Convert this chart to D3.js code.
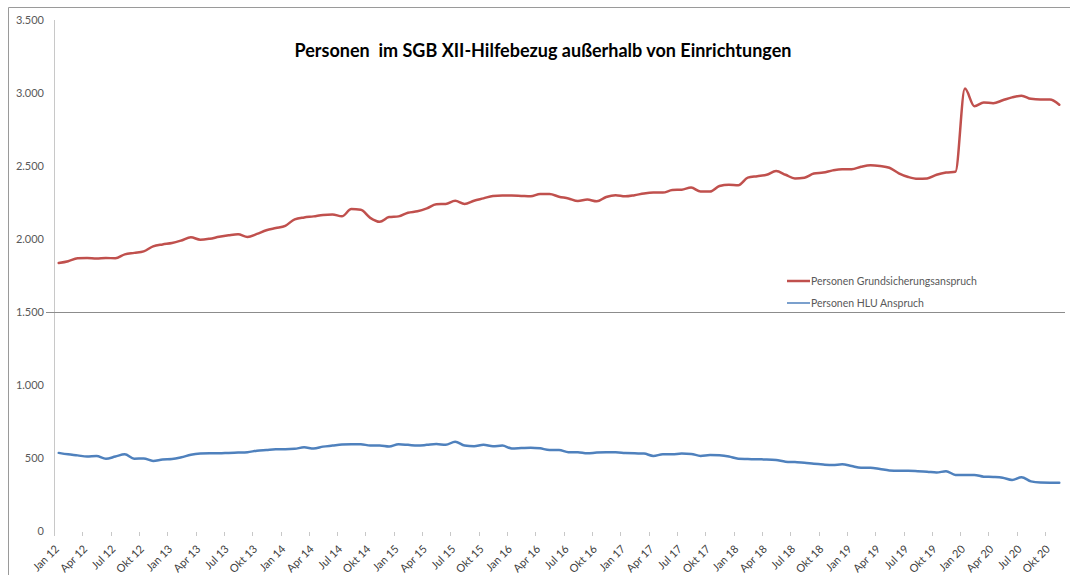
<!DOCTYPE html>
<html>
<head>
<meta charset="utf-8">
<script src="https://cdn.jsdelivr.net/npm/d3@7"></script>
<style>
  body { margin: 0; background: #fff; }
  text { font-family: Lato, "Open Sans", sans-serif; }
</style>
</head>
<body>
<script>
// Monatsreihe Jan 12 bis Nov 20
const monthNames = ["Jan", "Feb", "Mrz", "Apr", "Mai", "Jun", "Jul", "Aug", "Sep", "Okt", "Nov", "Dez"];
const years = ["12", "13", "14", "15", "16", "17", "18", "19", "20"];
const categories = years.flatMap(yr => monthNames.map(m => `${m} ${yr}`)).slice(0, 107);

const grundsicherung = [
  1835, 1848, 1868, 1870, 1866, 1870, 1868, 1895, 1905, 1915, 1950, 1963,
  1972, 1990, 2012, 1995, 2002, 2015, 2025, 2032, 2014, 2035, 2060, 2075,
  2090, 2135, 2148, 2155, 2165, 2168, 2155, 2205, 2200, 2145, 2118, 2150,
  2155, 2180, 2190, 2210, 2238, 2240, 2262, 2240, 2262, 2278, 2295, 2298,
  2298, 2295, 2292, 2308, 2308, 2290, 2278, 2260, 2270, 2258, 2288, 2300,
  2292, 2300, 2312, 2318, 2318, 2335, 2338, 2352, 2325, 2325, 2363, 2372,
  2368, 2420, 2430, 2440, 2465, 2440, 2415, 2420, 2448, 2455, 2470, 2478,
  2478, 2495, 2505, 2500, 2488, 2450, 2425, 2412, 2415, 2440, 2455, 2460,
  3030, 2910, 2935, 2930, 2950, 2970, 2982, 2960, 2955, 2955, 2920
];

const hlu = [
  535, 525, 518, 510, 514, 495, 510, 525, 495, 497, 480, 490,
  493, 505, 522, 530, 532, 532, 535, 537, 540, 550, 555, 560,
  560, 563, 573, 565, 578, 585, 592, 595, 595, 585, 585, 578,
  594, 590, 585, 590, 596, 590, 612, 585, 580, 590, 580, 585,
  565, 568, 571, 566, 555, 555, 540, 539, 532, 537, 539, 539,
  535, 532, 530, 514, 525, 525, 530, 528, 514, 520, 518, 510,
  495, 493, 491, 490, 486, 475, 472, 468, 460, 455, 452, 457,
  445, 434, 434, 425, 415, 413, 413, 410, 406, 400, 410, 384,
  384, 384, 372, 370, 365, 350, 368, 340, 332, 331, 331
];

const yTicks = [0, 500, 1000, 1500, 2000, 2500, 3000, 3500];
const seriesNames = ["Personen Grundsicherungsanspruch", "Personen HLU Anspruch"];
const seriesColors = ["#c0504d", "#4f81bd"];

const width = 1070;
const height = 575;

const x = d3.scaleBand().domain(categories).range([54, 1064]);
const y = d3.scaleLinear().domain([0, 3500]).range([531, 20]);

const de = d3.formatLocale({ decimal: ",", thousands: ".", grouping: [3], currency: ["", " €"] });
const fmt = de.format(",d");

const svg = d3.create("svg")
  .attr("width", width)
  .attr("height", height)
  .attr("viewBox", [0, 0, width, height]);

// Rahmen
svg.append("path")
  .attr("d", `M8.5,${height}V7.5H${width}`)
  .attr("fill", "none")
  .attr("stroke", "#9a9a9a");

// Titel
svg.append("text")
  .attr("x", 543)
  .attr("y", 57)
  .attr("text-anchor", "middle")
  .attr("font-size", 18)
  .attr("font-weight", "bold")
  .attr("fill", "#000")
  .style("white-space", "pre")
  .text("Personen  im SGB XII-Hilfebezug außerhalb von Einrichtungen");

// y-Achse
svg.append("line")
  .attr("x1", 54.5).attr("x2", 54.5)
  .attr("y1", y(3500)).attr("y2", y(0) + 5)
  .attr("stroke", "#c8c8c8");

svg.append("g")
  .selectAll("text")
  .data(yTicks)
  .join("text")
  .attr("x", 44)
  .attr("y", d => y(d))
  .attr("dy", "0.35em")
  .attr("text-anchor", "end")
  .attr("font-size", 11)
  .attr("fill", "#595959")
  .text(d => fmt(d));

// horizontale Achse schneidet bei 1.500
svg.append("line")
  .attr("x1", 46).attr("x2", 1065)
  .attr("y1", Math.round(y(1500)) + 0.5).attr("y2", Math.round(y(1500)) + 0.5)
  .attr("stroke", "#8c8c8c");

// x-Ticks und Beschriftung (Quartale)
const quarterCats = categories.filter((d, i) => i % 3 === 0);

svg.append("g")
  .selectAll("line")
  .data(quarterCats)
  .join("line")
  .attr("x1", d => Math.round(x(d)) + 0.5)
  .attr("x2", d => Math.round(x(d)) + 0.5)
  .attr("y1", y(0) + 1)
  .attr("y2", y(0) + 5)
  .attr("stroke", "#c8c8c8");

svg.append("g")
  .selectAll("text")
  .data(quarterCats)
  .join("text")
  .attr("transform", d => `translate(${x(d) + 3},${y(0) + 16}) rotate(-45)`)
  .attr("text-anchor", "end")
  .attr("dy", "0.35em")
  .attr("font-size", 11)
  .attr("fill", "#404040")
  .text(d => d);

// Linien
const line = d3.line()
  .x((d, i) => x(categories[i]) + x.bandwidth() / 2)
  .y(d => y(d))
  .curve(d3.curveMonotoneX);

[grundsicherung, hlu].forEach((series, k) => {
  svg.append("path")
    .datum(series)
    .attr("fill", "none")
    .attr("stroke", seriesColors[k])
    .attr("stroke-width", 2.5)
    .attr("stroke-linejoin", "round")
    .attr("stroke-linecap", "round")
    .attr("d", line);
});

// Legende
const legend = svg.append("g")
  .selectAll("g")
  .data(seriesNames)
  .join("g")
  .attr("transform", (d, i) => `translate(787,${281 + i * 22})`);

legend.append("line")
  .attr("x1", 0).attr("x2", 23)
  .attr("stroke", (d, i) => seriesColors[i])
  .attr("stroke-width", (d, i) => i === 0 ? 2.5 : 1.5);

legend.append("text")
  .attr("x", 24)
  .attr("dy", "0.35em")
  .attr("font-size", 10.5)
  .attr("fill", "#595959")
  .text(d => d);

document.body.appendChild(svg.node());
</script>
</body>
</html>
